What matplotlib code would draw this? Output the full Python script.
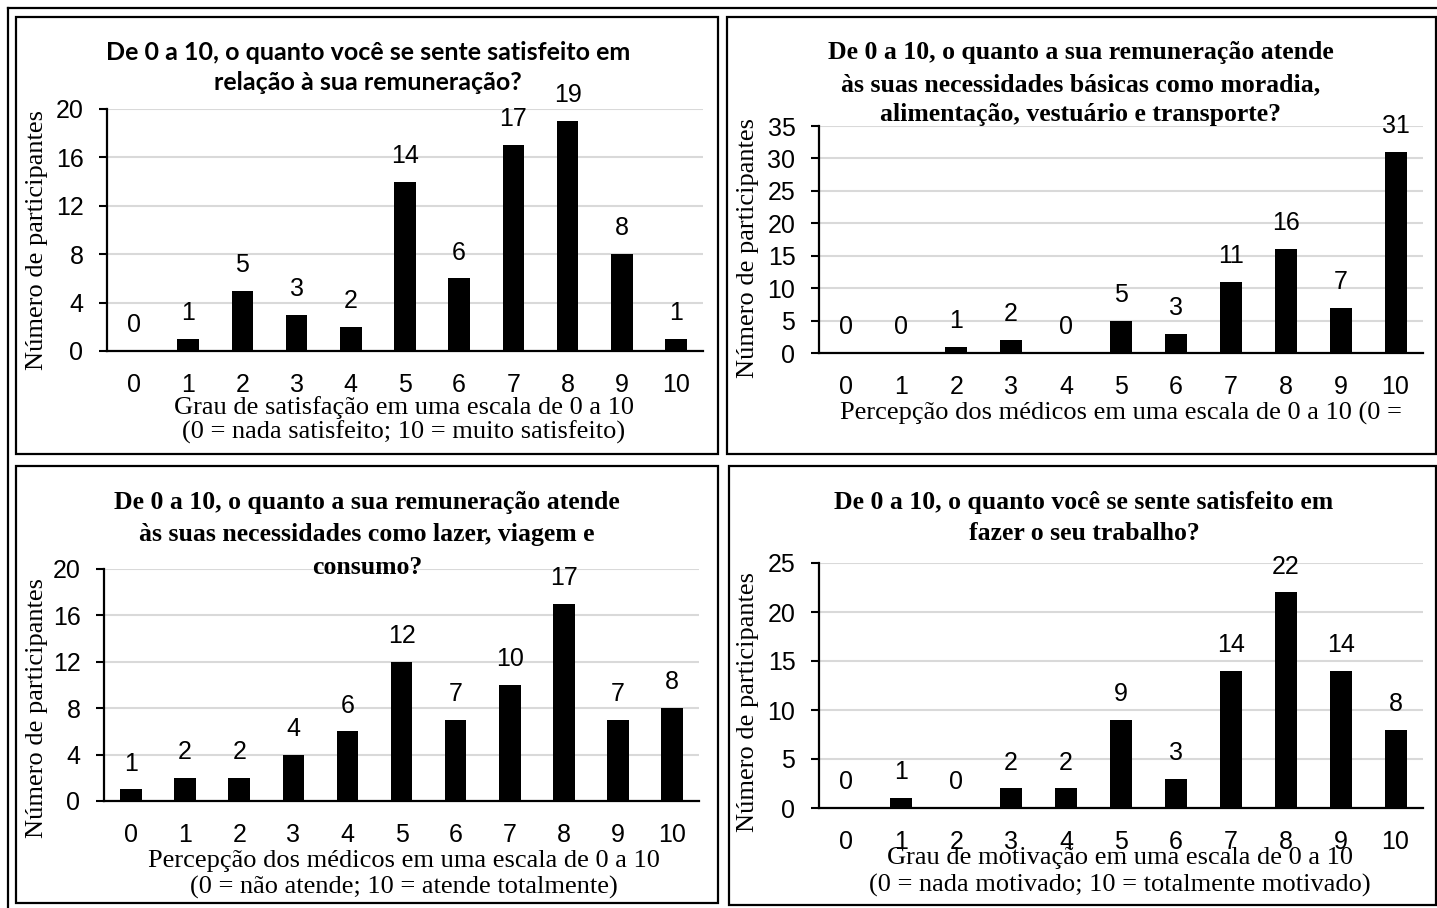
import matplotlib
matplotlib.use("Agg")
import matplotlib.pyplot as plt
from matplotlib.lines import Line2D
from matplotlib.patches import Rectangle

# ---------------- data ----------------
categories = [str(i) for i in range(11)]

vals_satisf_remun = [0, 1, 5, 3, 2, 14, 6, 17, 19, 8, 1]
vals_basicas = [0, 0, 1, 2, 0, 5, 3, 11, 16, 7, 31]
vals_lazer = [1, 2, 2, 4, 6, 12, 7, 10, 17, 7, 8]
vals_trabalho = [0, 1, 0, 2, 2, 9, 3, 14, 22, 14, 8]

yticks_tl = [0, 4, 8, 12, 16, 20]
yticks_tr = [0, 5, 10, 15, 20, 25, 30, 35]
yticks_bl = [0, 4, 8, 12, 16, 20]
yticks_br = [0, 5, 10, 15, 20, 25]

title_tl = ["De 0 a 10, o quanto você se sente satisfeito em",
            "relação à sua remuneração?"]
title_tr = ["De 0 a 10, o quanto a sua remuneração atende",
            "às suas necessidades básicas como moradia,",
            "alimentação, vestuário e transporte?"]
title_bl = ["De 0 a 10, o quanto a sua remuneração atende",
            "às suas necessidades como lazer, viagem e",
            "consumo?"]
title_br = ["De 0 a 10, o quanto você se sente satisfeito em",
            "fazer o seu trabalho?"]

xlab_tl = ["Grau de satisfação em uma escala de 0 a 10",
           "(0 = nada satisfeito; 10 = muito satisfeito)"]
xlab_tr = ["Percepção dos médicos em uma escala de 0 a 10 (0 ="]
xlab_bl = ["Percepção dos médicos em uma escala de 0 a 10",
           "(0 = não atende; 10 = atende totalmente)"]
xlab_br = ["Grau de motivação em uma escala de 0 a 10",
           "(0 = nada motivado; 10 = totalmente motivado)"]

ylabel = "Número de participantes"

# ---------------- layout ----------------
W, H = 1437, 908
fig = plt.figure(figsize=(W / 100, H / 100), dpi=100)
fig.patch.set_facecolor("white")

SANS = ["Liberation Sans", "DejaVu Sans"]
SERIF = ["Liberation Serif", "DejaVu Serif"]
CALI = ["Lato", "DejaVu Sans"]


def fx(x):
    return x / W


def fy(y):
    return 1 - y / H


# frame lines
frame_lw = 1.6
fig.add_artist(Line2D([fx(8), 1], [fy(8), fy(8)], color="black", lw=frame_lw,
                      transform=fig.transFigure))
fig.add_artist(Line2D([fx(8), fx(8)], [fy(8), 0], color="black", lw=frame_lw,
                      transform=fig.transFigure))
boxes = [(16, 17, 718, 454), (727, 17, 1436, 454),
         (16, 466, 718, 903), (729, 466, 1436, 905)]
for (x0, y0, x1, y1) in boxes:
    fig.add_artist(Rectangle((fx(x0), fy(y1)), fx(x1) - fx(x0), fy(y0) - fy(y1),
                             fill=False, ec="black", lw=frame_lw,
                             transform=fig.transFigure))

panels = [
    dict(vals=vals_satisf_remun, yt=yticks_tl, box=(107, 109, 703, 351),
         title=title_tl, tfont=CALI, tx=368, ty=[53, 83], tsize=18,
         xl=xlab_tl, xlx=404, xly=[408, 432], ylx=37, yly=240),
    dict(vals=vals_basicas, yt=yticks_tr, box=(819, 126, 1423, 353),
         title=title_tr, tfont=SERIF, tx=1081, ty=[53, 85, 115], tsize=18.5,
         xl=xlab_tr, xlx=1121, xly=[413], ylx=748, yly=248),
    dict(vals=vals_lazer, yt=yticks_bl, box=(104, 569, 699, 801),
         title=title_bl, tfont=SERIF, tx=367, ty=[502, 535, 567], tsize=18.5,
         xl=xlab_bl, xlx=404, xly=[861, 887], ylx=37, yly=708),
    dict(vals=vals_trabalho, yt=yticks_br, box=(819, 563, 1423, 808),
         title=title_br, tfont=SERIF, tx=1084, ty=[502, 533], tsize=18.5,
         xl=xlab_br, xlx=1120, xly=[858, 885], ylx=748, yly=702),
]

for p in panels:
    x0, y0, x1, y1 = p["box"]
    ax = fig.add_axes([fx(x0), fy(y1), fx(x1) - fx(x0), fy(y0) - fy(y1)])
    ax.set_facecolor("none")
    xs = list(range(len(categories)))
    bars = ax.bar(xs, p["vals"], width=0.4, color="black", zorder=3)
    ax.bar_label(bars, labels=[str(v) for v in p["vals"]], padding=10,
                 fontsize=18, family=SANS)
    ax.set_xlim(-0.5, len(categories) - 0.5)
    ax.set_ylim(0, p["yt"][-1])
    ax.set_yticks(p["yt"])
    ax.set_xticks(xs)
    ax.set_xticklabels(categories)
    for lab in ax.get_xticklabels() + ax.get_yticklabels():
        lab.set_family(SANS)
        lab.set_fontsize(18)
    ax.tick_params(axis="x", length=0, pad=16)
    ax.tick_params(axis="y", length=5.5, width=1.5, pad=11.5, direction="out")
    ax.grid(axis="y", color="#d9d9d9", lw=1.5, zorder=0)
    ax.set_axisbelow(True)
    for s in ["top", "right"]:
        ax.spines[s].set_visible(False)
    ax.spines["left"].set_linewidth(1.6)
    ax.spines["bottom"].set_linewidth(1.6)
    ax.spines["left"].set_zorder(4)
    ax.spines["bottom"].set_zorder(4)

    for line, y in zip(p["title"], p["ty"]):
        fig.text(fx(p["tx"]), fy(y), line, ha="center", va="center",
                 family=p["tfont"], fontweight="bold", fontsize=p["tsize"])
    for line, y in zip(p["xl"], p["xly"]):
        fig.text(fx(p["xlx"]), fy(y), line, ha="center", va="center",
                 family=SERIF, fontsize=19)
    fig.text(fx(p["ylx"]), fy(p["yly"]), ylabel, ha="center", va="center",
             rotation=90, family=SERIF, fontsize=19)

fig.savefig("out.png", dpi=100, facecolor="white")
